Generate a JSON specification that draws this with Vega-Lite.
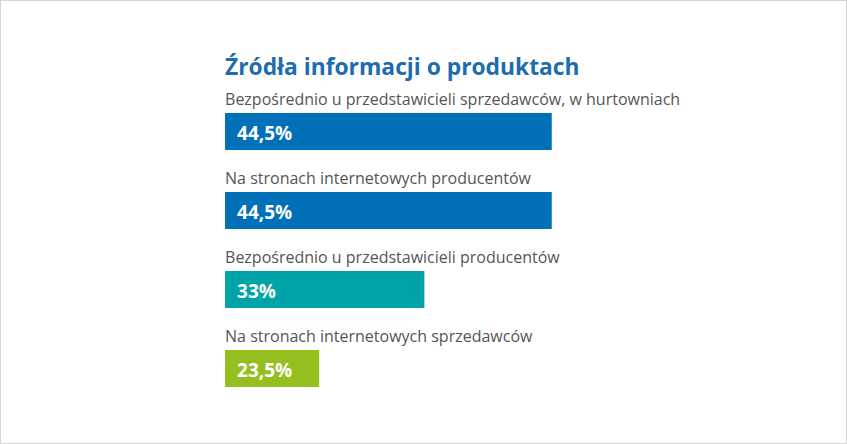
{
  "$schema": "https://vega.github.io/schema/vega-lite/v6.json",
  "width": 847,
  "height": 444,
  "padding": 0,
  "autosize": "none",
  "background": "#ffffff",
  "config": {"view": {"stroke": "#d6d6d6", "strokeWidth": 2}},
  "title": {
    "text": "Źródła informacji o produktach",
    "anchor": "start",
    "frame": "group",
    "orient": "top",
    "dx": 225,
    "offset": -98,
    "baseline": "alphabetic",
    "font": "Open Sans",
    "fontSize": 22.8,
    "fontWeight": "bold",
    "color": "#1d6cad"
  },
  "data": {
    "values": [
      {"kategoria": "Bezpośrednio u przedstawicieli sprzedawców, w hurtowniach", "wartosc": 44.5, "etykieta": "44,5%"},
      {"kategoria": "Na stronach internetowych producentów", "wartosc": 44.5, "etykieta": "44,5%"},
      {"kategoria": "Bezpośrednio u przedstawicieli producentów", "wartosc": 33, "etykieta": "33%"},
      {"kategoria": "Na stronach internetowych sprzedawców", "wartosc": 23.5, "etykieta": "23,5%"}
    ]
  },
  "encoding": {
    "y": {
      "field": "kategoria",
      "type": "nominal",
      "sort": null,
      "axis": null,
      "scale": {"range": [92, 408], "paddingInner": 0, "paddingOuter": 0}
    }
  },
  "layer": [
    {
      "mark": {"type": "bar", "height": 37, "cornerRadius": 0},
      "encoding": {
        "x": {"field": "wartosc", "type": "quantitative", "axis": null, "scale": {"domain": [-5.32, 71.16], "zero": false, "nice": false}},
        "x2": {"datum": 15},
        "color": {
          "field": "kategoria",
          "type": "nominal",
          "sort": null,
          "legend": null,
          "scale": {"range": ["#0070b9", "#0070b9", "#00a3a7", "#95bf1f"]}
        }
      }
    },
    {
      "mark": {"type": "text", "align": "left", "baseline": "alphabetic", "dy": -27, "font": "Open Sans", "fontSize": 16, "color": "#555555"},
      "encoding": {
        "x": {"datum": 15},
        "text": {"field": "kategoria"}
      }
    },
    {
      "mark": {"type": "text", "align": "left", "baseline": "alphabetic", "dx": 12, "dy": 8.5, "font": "Open Sans", "fontSize": 19, "fontWeight": "bold", "color": "#ffffff"},
      "encoding": {
        "x": {"datum": 15},
        "text": {"field": "etykieta"}
      }
    }
  ]
}
